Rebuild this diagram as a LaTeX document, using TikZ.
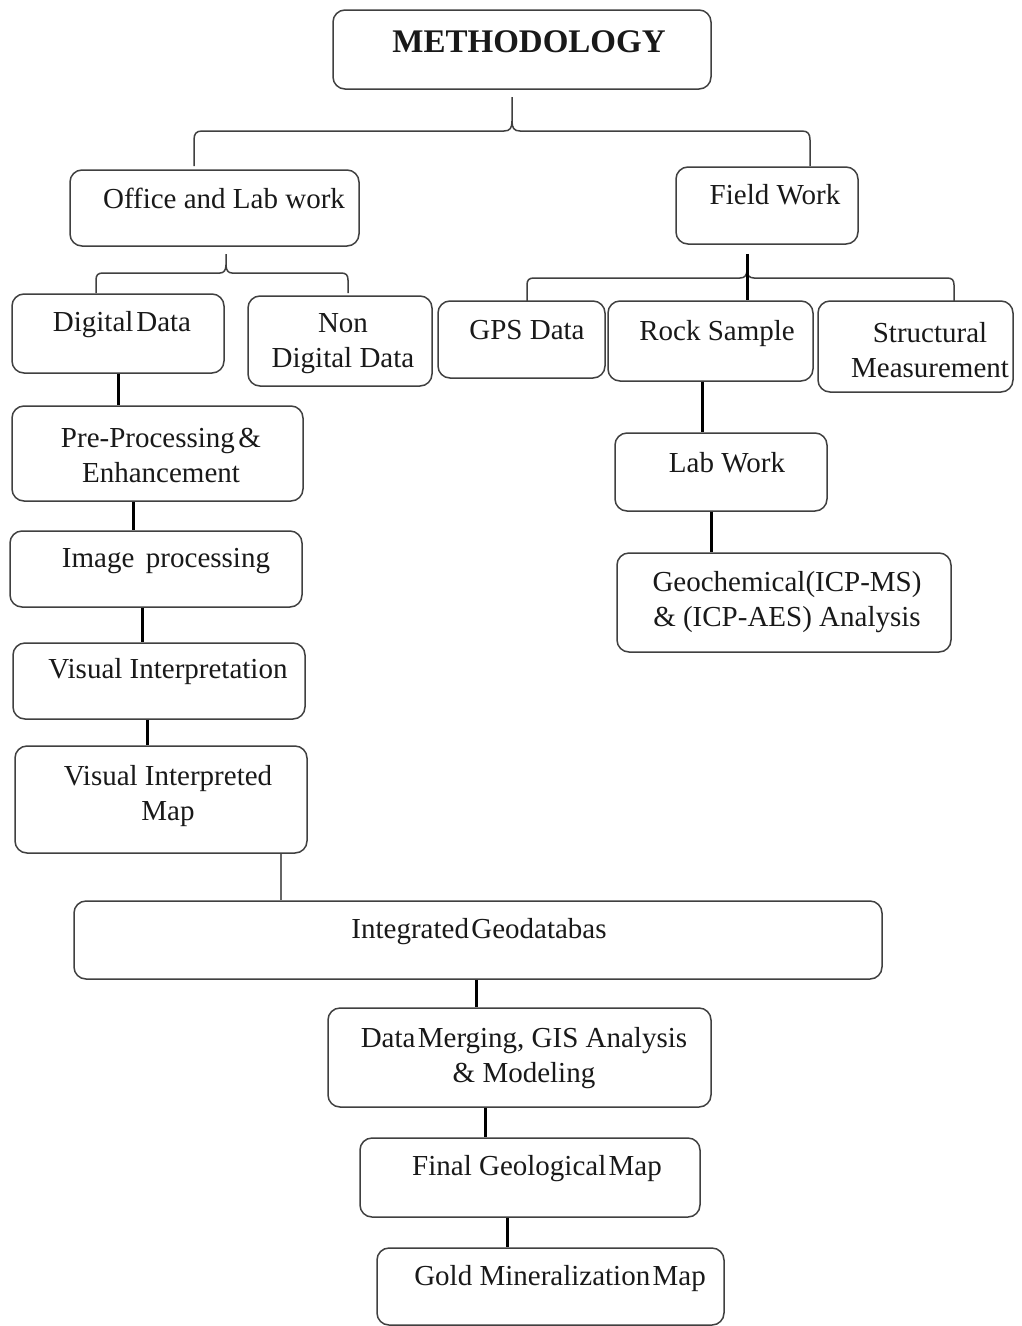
\documentclass[tikz,border=0pt]{standalone}
\usepackage{fontspec}
\setmainfont{Liberation Serif}
\usetikzlibrary{fit,calc}
\tikzset{
  box/.style={draw=black!75, line width=1.5pt, rounded corners=12pt, inner sep=0pt, fill=white},
  txt/.style={font=\fontsize{29}{35}\selectfont, align=center, inner sep=0pt, text=black!90},
  conn/.style={draw=black, line width=3pt},
  thinconn/.style={draw=black!60, line width=1.5pt},
  brace/.style={draw=black!75, line width=1.5pt}
}
\newcommand\bx[5]{\node[box, fit={(#2,#3) (#4,#5)}] (#1) {};}
\newcommand\vlink[4][conn]{\path (#3,0) coordinate (vl-#2-#4); \draw[#1] (#2.south -| vl-#2-#4) -- (#4.north -| vl-#2-#4);}
\begin{document}
\begin{tikzpicture}[x=1pt,y=-1pt]
\useasboundingbox[fill=white] (0,0) rectangle (1021,1326);
% boxes
\bx{meth}{333}{10}{711}{89}
\bx{office}{70}{170}{359}{246}
\bx{field}{676}{167}{858}{244}
\bx{digital}{12}{294}{224}{373}
\bx{nondig}{248}{296}{432}{386}
\bx{gps}{438}{301}{605}{378}
\bx{rock}{608}{301}{813}{381}
\bx{struct}{818}{301}{1013}{392}
\bx{labw}{615}{433}{827}{511}
\bx{geo}{617}{553}{951}{652}
\bx{pre}{12}{406}{303}{501}
\bx{img}{10}{531}{302}{607}
\bx{vis}{13}{643}{305}{719}
\bx{vmap}{15}{746}{307}{853}
\bx{integ}{74}{901}{882}{979}
\bx{merge}{328}{1008}{711}{1107}
\bx{final}{360}{1138}{700}{1217}
\bx{gold}{377}{1248}{724}{1325}
% texts
\node[txt, font=\fontsize{33}{38}\selectfont\bfseries] (t-meth) at (529,42) {METHODOLOGY};
\node[txt] (t-office) at (224,198) {Office and Lab work};
\node[txt] (t-field) at (775,195) {Field Work};
\node[txt] (t-digital) at (122,325) {Digital\hspace{0.1em}Data};
\node[txt] (t-nondig) at (343,344) {Non\\Digital Data};
\node[txt] (t-gps) at (527,330) {GPS Data};
\node[txt] (t-rock) at (717,334) {Rock Sample};
\node[txt] (t-struct) at (930,350) {Structural\\Measurement};
\node[txt] (t-pre) at (161,455) {Pre-Processing\hspace{0.12em}\&\\Enhancement};
\node[txt] (t-img) at (166,561) {Image\hspace{0.4em}processing};
\node[txt] (t-vis) at (168,672) {Visual Interpretation};
\node[txt] (t-vmap) at (168,796) {Visual Interpreted\\Map};
\node[txt] (t-labw) at (727,463) {Lab Work};
\node[txt] (t-geo) at (787,602) {Geochemical(ICP-MS)\\\& (ICP-AES) Analysis};
\node[txt] (t-integ) at (479,932) {Integrated\hspace{0.08em}Geodatabas};
\node[txt] (t-merge) at (524,1058) {Data\hspace{0.08em}Merging, GIS Analysis\\\& Modeling};
\node[txt] (t-final) at (537,1169) {Final Geological\hspace{0.08em}Map};
\node[txt] (t-gold) at (560,1279) {Gold Mineralization\hspace{0.08em}Map};
% braces
\coordinate (b1top) at (512,97);
\draw[brace] (194,166) -- (194,140) .. controls (194,134) and (196,131) .. (202,131)
  -- (504,131) .. controls (510,131) and (512,128) .. (512,121) -- (b1top);
\draw[brace] (512,121) .. controls (512,128) and (514,131) .. (520,131)
  -- (802,131) .. controls (808,131) and (810,134) .. (810,140) -- (810,166);
\coordinate (b2top) at (226,254);
\draw[brace] (96,293) -- (96,280) .. controls (96,275) and (98,273) .. (103,273)
  -- (220,273) .. controls (224,273) and (226,270) .. (226,265) -- (b2top);
\draw[brace] (226,265) .. controls (226,270) and (228,273) .. (232,273)
  -- (341,273) .. controls (346,273) and (348,275) .. (348,280) -- (348,293);
\draw[brace] (527,301) -- (527,285) .. controls (527,280) and (529,278) .. (534,278)
  -- (740,278) .. controls (745,278) and (747,275) .. (747,270);
\draw[brace] (747,270) .. controls (747,275) and (749,278) .. (754,278)
  -- (947,278) .. controls (952,278) and (954,280) .. (954,285) -- (954,301);
\path (747,0) coordinate (fx);
\draw[conn] (field.south -| fx) ++(0,9) -- (rock.north -| fx);
% connectors
\vlink{digital}{118}{pre}
\vlink{pre}{133}{img}
\vlink{img}{142}{vis}
\vlink{vis}{147}{vmap}
\vlink[thinconn]{vmap}{281}{integ}
\vlink{rock}{702}{labw}
\vlink{labw}{711}{geo}
\vlink{integ}{476}{merge}
\vlink{merge}{485}{final}
\vlink{final}{507}{gold}
\end{tikzpicture}
\end{document}
